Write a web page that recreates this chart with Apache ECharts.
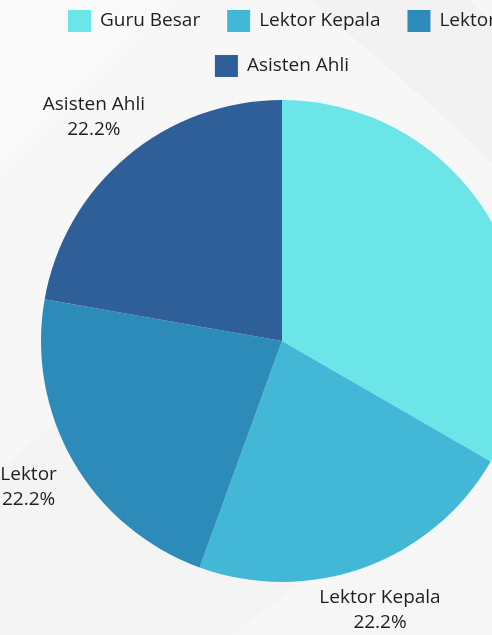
<!DOCTYPE html>
<html>
<head>
<meta charset="utf-8">
<script src="https://cdn.jsdelivr.net/npm/echarts@6/dist/echarts.min.js"></script>
<style>
html,body{margin:0;padding:0;overflow:hidden;background:#f7f7f7;}
#chart{width:564px;height:635px;}
</style>
</head>
<body>
<div id="chart"></div>
<script>
const categories = ['Guru Besar', 'Lektor Kepala', 'Lektor', 'Asisten Ahli'];
const values = [3, 2, 2, 2];
const colors = ['#6be5e8', '#42b8d6', '#2d8bba', '#2e5f99'];
const legendRow1 = categories.slice(0, 3);
const legendRow2 = categories.slice(3);

const data = categories.map((c, i) => ({ name: c, value: values[i] }));

const chart = echarts.init(document.getElementById('chart'), null, { renderer: 'canvas' });
const font = "'Open Sans', 'Noto Sans', sans-serif";
const CY = 341, R = 241, LABEL_GAP = 19;
const total = values.reduce((a, b) => a + b, 0);
function midAngle(i) {
  let before = 0;
  for (let k = 0; k < i; k++) before += values[k];
  const midFrac = (before + values[i] / 2) / total;
  return (90 - midFrac * 360) * Math.PI / 180;
}
const legendBase = {
  left: 'center',
  itemWidth: 23,
  itemHeight: 22,
  itemGap: 27,
  icon: 'rect',
  selectedMode: false,
  textStyle: { fontFamily: font, fontSize: 19, color: '#1e1e1e', padding: [0, 0, 0, 4] }
};
chart.setOption({
  backgroundColor: '#f7f7f7',
  color: colors,
  animation: false,
  graphic: [
    { type: 'polygon', silent: true, z: -10, shape: { points: [[310, 0], [470, 0], [564, 95], [564, 230], [420, 95]] }, style: { fill: '#f2f2f2' } },
    { type: 'polygon', silent: true, z: -10, shape: { points: [[0, 470], [0, 635], [230, 635], [320, 570], [130, 360]] }, style: { fill: '#f4f4f4' } },
    { type: 'polygon', silent: true, z: -10, shape: { points: [[0, 0], [170, 0], [0, 170]] }, style: { fill: '#f9f9f9' } }
  ],
  legend: [
    Object.assign({}, legendBase, { data: legendRow1, top: 5 }),
    Object.assign({}, legendBase, { data: legendRow2, top: 50 })
  ],
  series: [
    {
      type: 'pie',
      name: 'main',
      center: ['50%', CY],
      radius: R,
      startAngle: 90,
      clockwise: true,
      percentPrecision: 1,
      avoidLabelOverlap: false,
      data: data,
      label: {
        show: true,
        position: 'outside',
        formatter: '{b}\n{d}%',
        fontFamily: font,
        fontSize: 19,
        lineHeight: 25,
        color: '#1e1e1e',
        align: 'center'
      },
      labelLine: { show: false },
      labelLayout: function (params) {
        const a = midAngle(params.dataIndex);
        const dx = Math.cos(a), dy = -Math.sin(a);
        const w = params.labelRect.width, h = params.labelRect.height;
        const e = Math.min(Math.abs(dx) > 1e-6 ? w / 2 / Math.abs(dx) : Infinity,
                           Math.abs(dy) > 1e-6 ? h / 2 / Math.abs(dy) : Infinity);
        const d = R + LABEL_GAP + e;
        const cx = chart.getWidth() / 2;
        return { x: cx + d * dx, y: CY + d * dy, align: 'center', verticalAlign: 'middle' };
      },
      itemStyle: { borderWidth: 0 },
      emphasis: { disabled: true }
    }
  ]
});
</script>
</body>
</html>
